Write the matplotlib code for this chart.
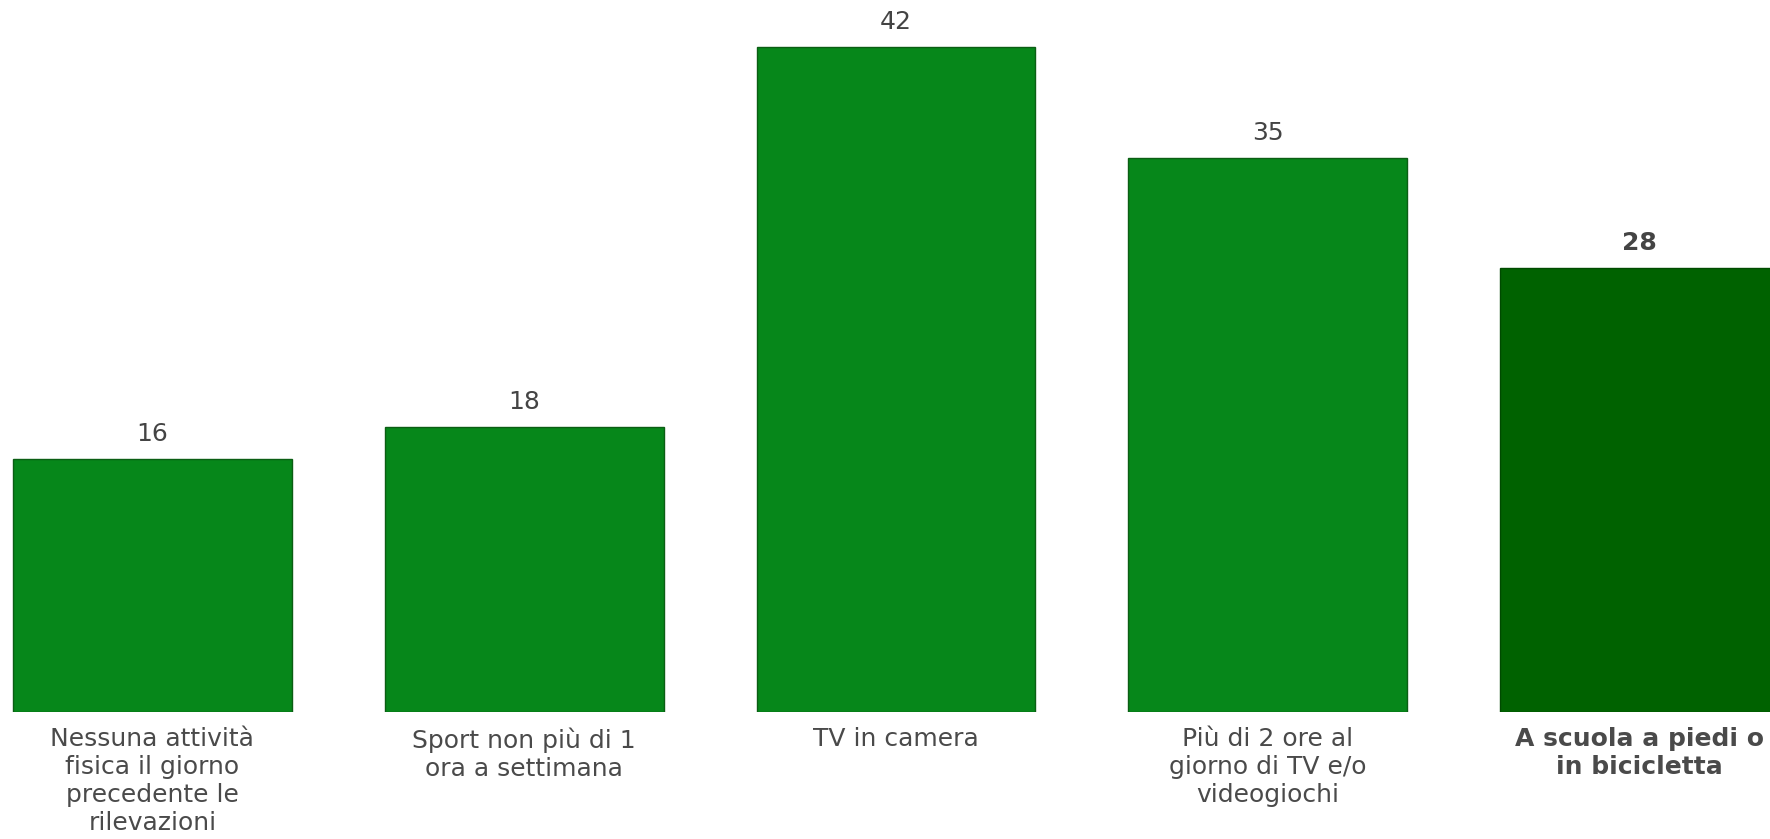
import numpy as np
import matplotlib.pyplot as plt

plt.rcParams['font.family'] = ['DejaVu Sans']

labels = [
    "Nessuna attività\nfisica il giorno\nprecedente le\nrilevazioni",
    "Sport non più di 1\nora a settimana",
    "TV in camera",
    "Più di 2 ore al\ngiorno di TV e/o\nvideogiochi",
    "A scuola a piedi o\nin bicicletta",
]
values = [16, 18, 42, 35, 28]
colors = ['#06871a', '#06871a', '#06871a', '#06871a', '#006200']
edges = ['#0b5e14', '#0b5e14', '#0b5e14', '#0b5e14', '#004a00']

fig = plt.figure(figsize=(17.7, 8.39), dpi=100)
ax = fig.add_axes([0, 0.1514, 1, 0.8486])

x = np.arange(len(values))
bars = ax.bar(x, values, width=0.75, color=colors, edgecolor=edges, linewidth=1)

ax.set_xlim(-0.41, 4.351)
ax.set_ylim(0, 44.95)

for i, (b, v) in enumerate(zip(bars, values)):
    bold = i == len(values) - 1
    ax.annotate(str(v), (b.get_x() + b.get_width() / 2, v),
                xytext=(0, 13), textcoords='offset pixels',
                ha='center', va='bottom', fontsize=18, color='#444444',
                fontweight='bold' if bold else 'normal')

ax.set_xticks(x)
ax.set_xticklabels(labels, fontsize=18, color='#4a4a4a', linespacing=1.2)
ax.get_xticklabels()[-1].set_fontweight('bold')
ax.tick_params(axis='x', length=0, pad=11)
ax.set_yticks([])
for s in ax.spines.values():
    s.set_visible(False)

fig.savefig('out.png', dpi=100)
